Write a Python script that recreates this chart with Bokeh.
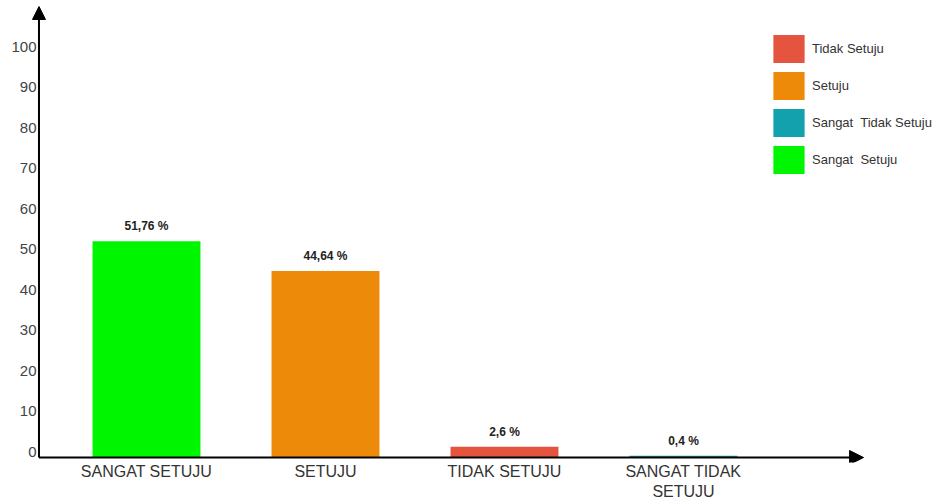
from bokeh.plotting import figure
from bokeh.models import (ColumnDataSource, Range1d, LinearAxis, FixedTicker,
                          Arrow, NormalHead, Legend, LegendItem)
from bokeh.core.properties import value
from bokeh.embed import file_html
from bokeh.resources import INLINE

# ---- data ----
categories = ["SANGAT SETUJU", "SETUJU", "TIDAK SETUJU", "SANGAT TIDAK\nSETUJU"]
percentages = [51.76, 44.64, 2.6, 0.4]
value_labels = ["51,76 %", "44,64 %", "2,6 %", "0,4 %"]
bar_colors = ["#00F500", "#EE8A09", "#E5543E", "#13A1AE"]
legend_labels = ["Tidak Setuju", "Setuju", "Sangat  Tidak Setuju", "Sangat  Setuju"]
legend_index = [2, 1, 3, 0]
y_tick_values = [0, 10, 20, 30, 40, 50, 60, 70, 80, 90, 100]

positions = list(range(len(categories)))
src = ColumnDataSource(dict(x=positions, top=percentages, label=value_labels,
                            color=bar_colors))

FONT = "Liberation Sans"
# layout (view extents)
x_start, x_end = -0.648, 4.419
axis_x = -0.6006
x_arrow_end = 4.006
y_start, y_end = -1.196, 109.33
y_arrow_end = 107.9

p = figure(width=937, height=504, output_backend="svg", toolbar_location=None,
           x_range=Range1d(x_start, x_end), y_range=Range1d(y_start, y_end),
           y_axis_location=None, min_border_left=30, min_border_right=0,
           min_border_top=0, min_border_bottom=42, outline_line_color=None)
p.grid.visible = False
p.extra_y_ranges = {"ticks": Range1d(-2.716, 111.36)}

yaxis = LinearAxis(y_range_name="ticks", ticker=FixedTicker(ticks=y_tick_values),
                   axis_line_color=None, major_tick_line_color=None,
                   minor_tick_line_color=None, major_tick_in=0, major_tick_out=0,
                   major_label_standoff=-6, major_label_text_font=FONT,
                   major_label_text_font_size="15px", major_label_text_color="#444444")
p.add_layout(yaxis, "left")

xa = p.xaxis[0]
xa.ticker = FixedTicker(ticks=positions)
xa.major_label_overrides = {i: c for i, c in zip(positions, categories)}
xa.axis_line_color = None
xa.major_tick_line_color = None
xa.minor_tick_line_color = None
xa.major_tick_in = 0
xa.major_tick_out = 0
xa.major_label_standoff = 0
xa.major_label_text_font = FONT
xa.major_label_text_font_size = "16px"
xa.major_label_text_color = "#333333"

bars = p.vbar(x="x", top="top", width=0.603, color="color", line_color=None, source=src)
p.text(x="x", y="top", text="label", source=src, text_align="center",
       text_baseline="bottom", y_offset=-8, text_font=value(FONT),
       text_font_style="bold", text_font_size="12px", text_color="#222222")

# axis arrows
p.add_layout(Arrow(end=NormalHead(size=14, fill_color="black", fill_alpha=1.0,
                                  line_color="black", line_width=1),
                   x_start=axis_x, y_start=0, x_end=x_arrow_end, y_end=0,
                   line_width=2, line_color="black"))
p.add_layout(Arrow(end=NormalHead(size=13, fill_color="black", fill_alpha=1.0,
                                  line_color="black", line_width=1),
                   x_start=axis_x, y_start=0, x_end=axis_x, y_end=y_arrow_end,
                   line_width=2, line_color="black"))

items = [LegendItem(label=lab, renderers=[bars], index=idx)
         for lab, idx in zip(legend_labels, legend_index)]
legend = Legend(items=items, location=(739, 285.5), glyph_width=39, glyph_height=35,
                spacing=2, padding=0, margin=0, border_line_color=None,
                background_fill_alpha=0, label_text_font=FONT,
                label_text_font_size="13px", label_standoff=4,
                label_text_color="#333333")
p.add_layout(legend)

open("out.html", "w").write(file_html(p, INLINE))
